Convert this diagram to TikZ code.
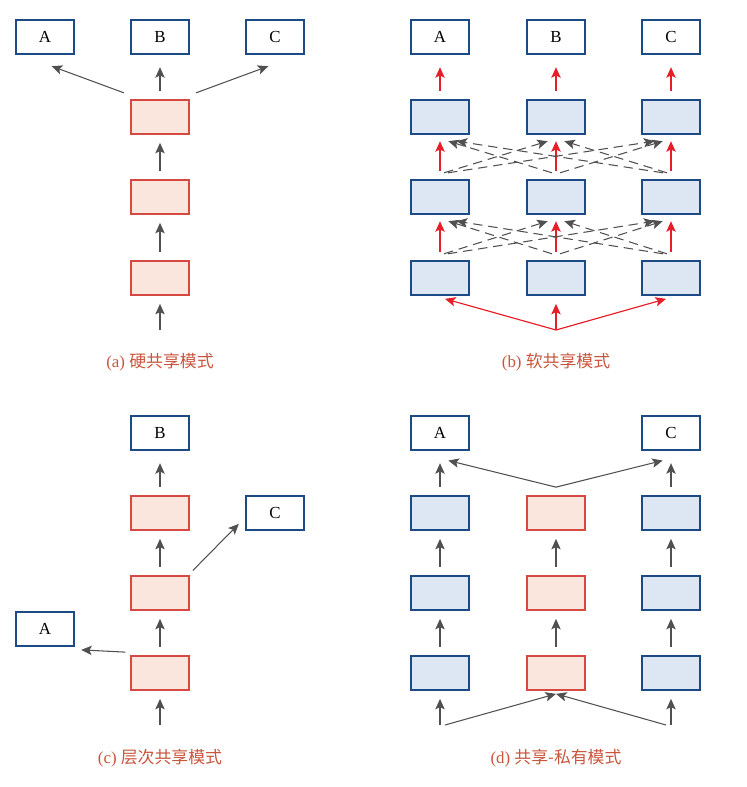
\documentclass[tikz,border=0pt]{standalone}
\usepackage{fontspec}
\setmainfont{Liberation Serif}
\newfontfamily\cjk{Noto Sans CJK SC}
\usetikzlibrary{arrows.meta}
\definecolor{rb}{RGB}{214,72,66}
\definecolor{rf}{RGB}{251,230,222}
\definecolor{bb}{RGB}{28,74,132}
\definecolor{bf}{RGB}{221,230,243}
\definecolor{gr}{RGB}{80,80,80}
\definecolor{cap}{RGB}{200,85,60}
\definecolor{ra}{RGB}{230,30,40}
\begin{document}
\begin{tikzpicture}[x=0.03cm,y=-0.03cm,
  obox/.style={draw=bb,fill=white,line width=0.9pt,minimum width=1.74cm,minimum height=1.02cm,font=\Large},
  rbox/.style={draw=rb,fill=rf,line width=0.9pt,minimum width=1.74cm,minimum height=1.02cm},
  bbox/.style={draw=bb,fill=bf,line width=0.9pt,minimum width=1.74cm,minimum height=1.02cm},
  ar/.style={-{Stealth[length=9pt,width=8pt,inset=2pt]},gr,line width=0.9pt},
  rar/.style={-{Stealth[length=9pt,width=8pt,inset=2pt]},ra,line width=1pt},
  rdar/.style={rar},
  gd/.style={ar,dash pattern=on 8pt off 5pt},
  capt/.style={text=cap,font=\Large}]
\useasboundingbox (0,0) rectangle (746,787);
% (a)
\node[obox] (aA) at (45,37) {A};
\node[obox] (aB) at (160,37) {B};
\node[obox] (aC) at (275,37) {C};
\node[rbox] (a1) at (160,117) {};
\node[rbox] (a2) at (160,197) {};
\node[rbox] (a3) at (160,278) {};
\coordinate (a0) at (160,330);
\draw[ar] (a0) -- ([yshift=-0.25cm]a3.south);
\draw[ar] ([yshift=0.25cm]a3.north) -- ([yshift=-0.25cm]a2.south);
\draw[ar] ([yshift=0.25cm]a2.north) -- ([yshift=-0.25cm]a1.south);
\draw[ar] ([yshift=0.25cm]a1.north) -- ([yshift=-0.38cm]aB.south);
\draw[ar] ([shift={(-0.2cm,0.2cm)}]a1.north west) -- ([shift={(0.2cm,-0.35cm)}]aA.south);
\draw[ar] ([shift={(0.2cm,0.2cm)}]a1.north east) -- ([shift={(-0.2cm,-0.35cm)}]aC.south);
\node[capt] (ca) at (160,362) {(a) {\cjk 硬共享模式}};
% (b)
\foreach \c/\x/\l in {1/440/A,2/556/B,3/671/C}{
  \node[obox] (bO\c) at (\x,37) {\l};
  \node[bbox] (b\c1) at (\x,117) {};
  \node[bbox] (b\c2) at (\x,197) {};
  \node[bbox] (b\c3) at (\x,278) {};
  \draw[rar] ([yshift=0.25cm]b\c1.north) -- ([yshift=-0.38cm]bO\c.south);
  \draw[rdar] ([yshift=0.25cm]b\c2.north) -- ([yshift=-0.2cm]b\c1.south);
  \draw[rdar] ([yshift=0.25cm]b\c3.north) -- ([yshift=-0.2cm]b\c2.south);
}
\foreach \i in {1,2,3}{\foreach \j in {1,2,3}{
  \ifnum\i=\j\else
  \draw[gd] ([xshift={(\j-\i)*0.12cm},yshift=0.2cm]b\i2.north) -- ([xshift={(\i-\j)*0.25cm},yshift=-0.2cm]b\j1.south);
  \draw[gd] ([xshift={(\j-\i)*0.12cm},yshift=0.2cm]b\i3.north) -- ([xshift={(\i-\j)*0.25cm},yshift=-0.2cm]b\j2.south);
  \fi}}
\coordinate (b0) at (556,330);
\draw[rar] (b0) -- ([yshift=-0.25cm]b23.south);
\draw[rar] (b0) -- ([shift={(0.15cm,-0.1cm)}]b13.south);
\draw[rar] (b0) -- ([shift={(-0.15cm,-0.1cm)}]b33.south);
\node[capt] (cb) at (556,362) {(b) {\cjk 软共享模式}};
% (c)
\node[obox] (cB) at (160,433) {B};
\node[obox] (cC) at (275,513) {C};
\node[obox] (cA) at (45,629) {A};
\node[rbox] (c1) at (160,513) {};
\node[rbox] (c2) at (160,593) {};
\node[rbox] (c3) at (160,673) {};
\coordinate (c0) at (160,725);
\draw[ar] (c0) -- ([yshift=-0.25cm]c3.south);
\draw[ar] ([yshift=0.25cm]c3.north) -- ([yshift=-0.25cm]c2.south);
\draw[ar] ([yshift=0.25cm]c2.north) -- ([yshift=-0.25cm]c1.south);
\draw[ar] ([yshift=0.25cm]c1.north) -- ([yshift=-0.38cm]cB.south);
\draw[ar] ([shift={(0.1cm,0.15cm)}]c2.north east) -- ([shift={(-0.2cm,0.2cm)}]cC.south west);
\draw[ar] ([shift={(-0.15cm,0.1cm)}]c3.north west) -- ([shift={(0.2cm,-0.1cm)}]cA.south east);
\node[capt] (cc) at (160,758) {(c) {\cjk 层次共享模式}};
% (d)
\node[obox] (dA) at (440,433) {A};
\node[obox] (dC) at (671,433) {C};
\foreach \c/\x/\s in {1/440/bbox,2/556/rbox,3/671/bbox}{
  \node[\s] (d\c1) at (\x,513) {};
  \node[\s] (d\c2) at (\x,593) {};
  \node[\s] (d\c3) at (\x,673) {};
  \draw[ar] ([yshift=0.25cm]d\c3.north) -- ([yshift=-0.25cm]d\c2.south);
  \draw[ar] ([yshift=0.25cm]d\c2.north) -- ([yshift=-0.25cm]d\c1.south);
}
\draw[ar] ([yshift=0.25cm]d11.north) -- ([yshift=-0.38cm]dA.south);
\draw[ar] ([yshift=0.25cm]d31.north) -- ([yshift=-0.38cm]dC.south);
\draw[ar] ([yshift=0.25cm]d21.north) -- ([shift={(0.25cm,-0.3cm)}]dA.south);
\draw[ar] ([yshift=0.25cm]d21.north) -- ([shift={(-0.25cm,-0.3cm)}]dC.south);
\coordinate (d0l) at (440,725);
\coordinate (d0r) at (671,725);
\draw[ar] (d0l) -- ([yshift=-0.25cm]d13.south);
\draw[ar] (d0r) -- ([yshift=-0.25cm]d33.south);
\draw[ar] ([xshift=0.15cm]d0l) -- ([yshift=-0.1cm]d23.south);
\draw[ar] ([xshift=-0.15cm]d0r) -- ([yshift=-0.1cm]d23.south);
\node[capt] (cd) at (556,758) {(d) {\cjk 共享-私有模式}};
\end{tikzpicture}
\end{document}
